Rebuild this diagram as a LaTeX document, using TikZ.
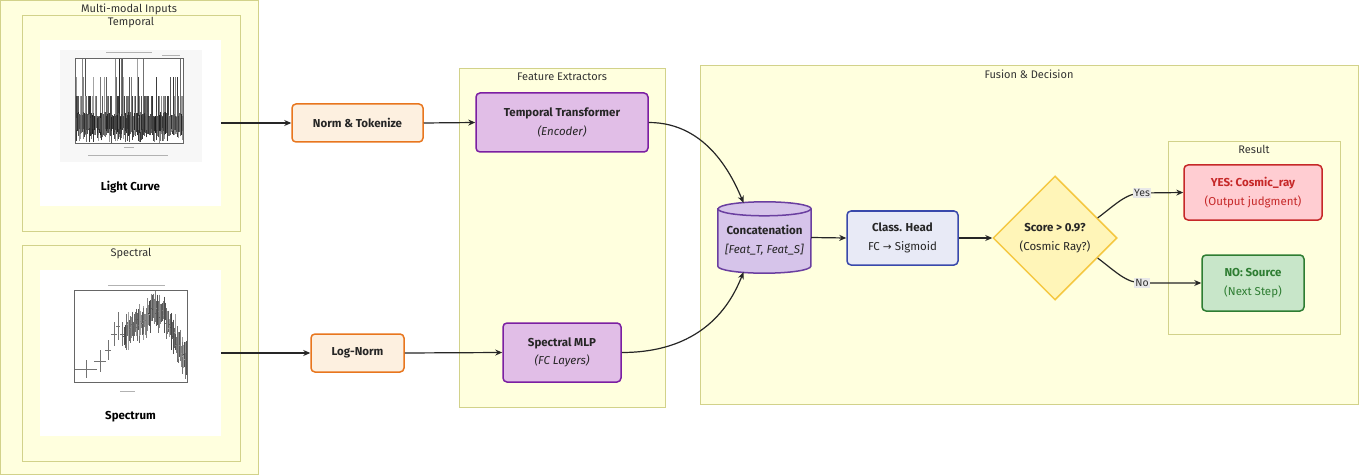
\documentclass[tikz,border=0pt]{standalone}
\usepackage{fontspec}
\setmainfont{Fira Sans}
\newfontfamily\symfont{DejaVu Sans}
\usetikzlibrary{shapes.geometric,arrows.meta,calc}
\definecolor{clfill}{HTML}{FFFFDE}
\definecolor{cldraw}{HTML}{D2D28A}
\definecolor{txt}{HTML}{333333}
\definecolor{orgfill}{HTML}{FDF0E0}
\definecolor{orgdraw}{HTML}{E8761E}
\definecolor{purfill}{HTML}{E1BEE7}
\definecolor{purdraw}{HTML}{7B1FA2}
\definecolor{cylfill}{HTML}{D6C4EA}
\definecolor{cyldraw}{HTML}{6A3FA0}
\definecolor{clsfill}{HTML}{E8EAF6}
\definecolor{clsdraw}{HTML}{3949AB}
\definecolor{diafill}{HTML}{FFF5B8}
\definecolor{diadraw}{HTML}{F5C842}
\definecolor{yesfill}{HTML}{FFCDD2}
\definecolor{yesdraw}{HTML}{C62828}
\definecolor{nofill}{HTML}{C8E6C9}
\definecolor{nodraw}{HTML}{2E7D32}
\definecolor{lblfill}{HTML}{E8E8E8}
\begin{document}
\begin{tikzpicture}[x=1pt,y=-1pt,
  cluster/.style={draw=cldraw, fill=clfill, line width=0.8pt, inner sep=0pt},
  ctitle/.style={font=\fontsize{11}{12}\selectfont, text=txt, inner sep=0pt},
  box/.style={rounded corners=4pt, line width=1.5pt, align=center, inner sep=0pt,
    font=\fontsize{11.5}{18.5}\selectfont, text=black!85},
  arr/.style={-{Stealth[length=7pt,width=6pt]}, line width=1.2pt, draw=black!85},
  lbl/.style={fill=lblfill, inner sep=1pt, font=\fontsize{10.5}{12}\selectfont, text=txt},
  imgbox/.style={fill=white, draw=none, inner sep=0pt},
  imglabel/.style={font=\bfseries\fontsize{11.5}{13}\selectfont, text=black, inner sep=0pt}
]
\useasboundingbox (0,0) rectangle (1369,476);
\fill[white] (0,0) rectangle (1369,476);

% clusters
\node[cluster, minimum width=258pt, minimum height=474pt] (mmi) at (129,237) {};
\node[ctitle] (mmit) at (129,9) {Multi-modal Inputs};
\node[cluster, minimum width=218pt, minimum height=216pt] (temp) at (131,123) {};
\node[ctitle] (tempt) at (131,23) {Temporal};
\node[cluster, minimum width=218pt, minimum height=216pt] (spec) at (131,353) {};
\node[ctitle] (spect) at (131,254) {Spectral};
\node[cluster, minimum width=206pt, minimum height=339pt] (fe) at (562,237.5) {};
\node[ctitle] (fet) at (562,77) {Feature Extractors};
\node[cluster, minimum width=658pt, minimum height=339pt] (fd) at (1029,234.5) {};
\node[ctitle] (fdt) at (1029,74) {Fusion \& Decision};
\node[cluster, minimum width=172pt, minimum height=193pt] (res) at (1254,237.5) {};
\node[ctitle] (rest) at (1254,149) {Result};

% image 1: light curve
\node[imgbox, minimum width=181pt, minimum height=166pt] (img1) at (130.5,123) {};
\fill[black!3] (60,50) rectangle (202,162);
\fill[white] (75,58) rectangle (183,143);
\fill[black!30] (106,52.5) rectangle (152,53.5);
\fill[black!30] (162,55) rectangle (180,56);
\fill[black!30] (88,155.5) rectangle (168,156.5);
\fill[black!30] (124,147) rectangle (134,148);
\pgfmathsetseed{7}
\begin{scope}
\clip (75,58) rectangle (183,143);
\foreach \i in {0,...,170}{
  \pgfmathsetmacro\xx{76+\i*0.63}
  \pgfmathsetmacro\r{rnd}
  \pgfmathsetmacro\tp{\r<0.45 ? 116 : (\r<0.8 ? 96 : (\r<0.93 ? 77 : 59))}
  \pgfmathsetmacro\bt{143-20*rnd}
  \pgfmathtruncatemacro\g{35+50*rnd}
  \draw[black!\g, line width=0.45pt] (\xx,\bt) -- (\xx,\tp);
}
\foreach \i in {0,...,120}{
  \pgfmathsetmacro\xx{76+\i*0.88}
  \pgfmathsetmacro\bt{128+8*rnd}
  \pgfmathsetmacro\tp{112+6*rnd}
  \pgfmathtruncatemacro\g{55+35*rnd}
  \draw[black!\g, line width=0.5pt] (\xx,\bt) -- (\xx,\tp);
}
\end{scope}
\draw[black!60, line width=0.4pt] (75,58) rectangle (183,143);
\node[imglabel] (lc) at (130.5,187) {Light Curve};

% image 2: spectrum
\node[imgbox, minimum width=181pt, minimum height=166pt] (img2) at (130.5,353) {};
\fill[black!30] (108,284.5) rectangle (165,285.5);
\fill[black!30] (120,390.5) rectangle (135,391.5);
\begin{scope}
\clip (74,290) rectangle (187,382);
\foreach \x/\y/\hx/\vy in {86/369/11/9, 100/361/6/11, 108/350/3/10, 114/334/3/12, 118/326/2/14, 122/334/2/12}{
  \draw[black!55, line width=0.5pt] (\x-\hx,\y) -- (\x+\hx,\y) (\x,\y-\vy) -- (\x,\y+\vy);
}
\foreach \i in {0,...,80}{
  \pgfmathsetmacro\xx{124+\i*0.78}
  \pgfmathsetmacro\yc{(\xx<148 ? 318+(148-\xx)*0.6 : (\xx<163 ? 312 : 312+(\xx-163)*2.2)) + 12*(rnd-0.5)}
  \pgfmathsetmacro\e{6+12*rnd}
  \pgfmathtruncatemacro\g{35+40*rnd}
  \draw[black!\g, line width=0.4pt] (\xx,\yc-\e) -- (\xx,\yc+\e) (\xx-0.8,\yc) -- (\xx+0.8,\yc);
}
\end{scope}
\draw[black!60, line width=0.4pt] (74,290) rectangle (187,382);
\node[imglabel] (sp) at (130.5,417) {Spectrum};

% process nodes
\node[box, draw=orgdraw, fill=orgfill, minimum width=131pt, minimum height=38pt] (norm) at (357.5,123) {\textbf{Norm \& Tokenize}};
\node[box, draw=orgdraw, fill=orgfill, minimum width=93pt, minimum height=38pt] (lognorm) at (357.5,353) {\textbf{Log-Norm}};
\node[box, draw=purdraw, fill=purfill, minimum width=172pt, minimum height=59pt] (tt) at (562,122.5) {\textbf{Temporal Transformer}\\\textit{(Encoder)}};
\node[box, draw=purdraw, fill=purfill, minimum width=118pt, minimum height=59pt] (smlp) at (562,352.5) {\textbf{Spectral MLP}\\\textit{(FC Layers)}};

% cylinder
\node[minimum width=93pt, minimum height=71pt, inner sep=0pt] (cyl) at (764.5,237.5) {};
\path[fill=cylfill, draw=cyldraw, line width=1.5pt]
  ([yshift=-7pt]cyl.north west) -- ([yshift=7pt]cyl.south west)
  arc[start angle=180, end angle=360, x radius=46.5pt, y radius=7pt]
  -- ([yshift=-7pt]cyl.north east)
  arc[start angle=0, end angle=180, x radius=46.5pt, y radius=7pt] -- cycle;
\draw[cyldraw, line width=1.5pt] ([yshift=-7pt]cyl.north west)
  arc[start angle=180, end angle=360, x radius=46.5pt, y radius=7pt];
\node[box, align=center] (cylt) at ([yshift=-3pt]cyl.center) {\textbf{Concatenation}\\\textit{[Feat\_T, Feat\_S]}};

\node[box, draw=clsdraw, fill=clsfill, minimum width=111pt, minimum height=54pt] (head) at (902.5,238) {\textbf{Class. Head}\\FC {\symfont\fontsize{10.5}{18}\selectfont →} Sigmoid};
\node[diamond, aspect=1, draw=diadraw, fill=diafill, line width=1.5pt, minimum size=124pt, inner sep=0pt, align=center, font=\fontsize{11.5}{18.5}\selectfont, text=black!85] (dia) at (1055,238) {\textbf{Score > 0.9?}\\(Cosmic Ray?)};
\node[box, draw=yesdraw, fill=yesfill, text=yesdraw, minimum width=138pt, minimum height=55pt] (yes) at (1253,192.5) {\textbf{YES: Cosmic\_ray}\\(Output judgment)};
\node[box, draw=nodraw, fill=nofill, text=nodraw, minimum width=102pt, minimum height=56pt] (no) at (1253,283) {\textbf{NO: Source}\\(Next Step)};

% connectors
\draw[arr] (img1.east) -- (norm.west);
\draw[arr] (img2.east) -- (lognorm.west);
\draw[arr] (norm.east) -- (tt.west);
\draw[arr] (lognorm.east) -- (smlp.west);
\draw[arr] (tt.east) .. controls (708,122.5) and (733,178) .. ([xshift=-21pt,yshift=-1pt]cyl.north);
\draw[arr] (smlp.east) .. controls (708,352.5) and (733,298) .. ([xshift=-21pt,yshift=1pt]cyl.south);
\draw[arr] (cyl.east) -- (head.west);
\draw[arr] (head.east) -- (dia.west);
\coordinate (yesc) at (1142,193);
\coordinate (noc) at (1142,283);
\draw[arr] ($(dia.north)!0.68!(dia.east)$) .. controls (1115,205) and (1126,193) .. (yesc) -- (yes.west);
\draw[arr] ($(dia.south)!0.68!(dia.east)$) .. controls (1115,271) and (1126,283) .. (noc) -- (no.west);
\node[lbl] (yesl) at (yesc) {Yes};
\node[lbl] (nol) at (noc) {No};
\end{tikzpicture}
\end{document}
